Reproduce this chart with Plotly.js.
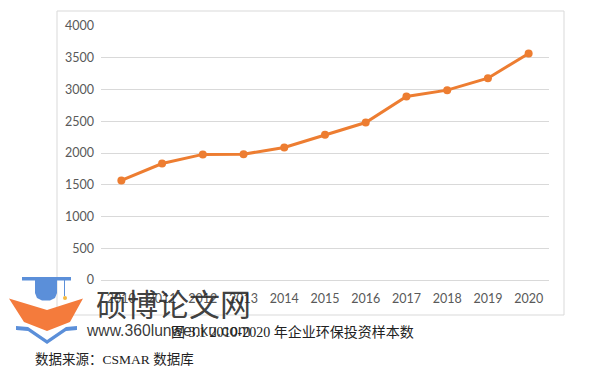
<!DOCTYPE html>
<html><head><meta charset="utf-8">
<script src="https://cdn.plot.ly/plotly-3.0.1.min.js"></script>
<style>html,body{margin:0;padding:0;background:#fff;}#chart{width:616px;height:367px;}</style>
</head><body><div id="chart"></div>
<script>
const years = ['2010','2011','2012','2013','2014','2015','2016','2017','2018','2019','2020'];
const samples = [1568, 1834, 1978, 1982, 2086, 2287, 2480, 2890, 2990, 3178, 3567];
const yTicks = [0, 500, 1000, 1500, 2000, 2500, 3000, 3500, 4000];
const captionText = '图 3.1 2010-2020 年企业环保投资样本数';
const sourceText = '数据来源：CSMAR 数据库';
const watermarkTitle = '硕博论文网';
const watermarkUrl = 'www.360lunwenku.com';

const W = 616, H = 367, L = 101, R = 549, T = 26, B = 280;
const px = x => (x - L) / (R - L);
const py = y => (B - y) / (B - T);
function path(pts){ return 'M' + pts.map(p => px(p[0]).toFixed(4) + ',' + py(p[1]).toFixed(4)).join(' L') + ' Z'; }

const shapes = [
  {type:'rect', xref:'paper', yref:'paper', x0:px(57), x1:px(564), y0:py(315), y1:py(11), line:{color:'#d9d9d9', width:1}, layer:'below'},
  // logo
  {type:'rect', xref:'paper', yref:'paper', x0:px(22), x1:px(71), y0:py(280.5), y1:py(277), fillcolor:'#5b8fd9', line:{width:0}},
  {type:'path', xref:'paper', yref:'paper', path:path([[35,280],[57,280],[57,293],[55,298],[50,300.5],[42,300.5],[37,298],[35,293]]), fillcolor:'#5b8fd9', line:{width:0}},
  {type:'line', xref:'paper', yref:'paper', x0:px(64.5), x1:px(64.5), y0:py(280), y1:py(296), line:{color:'#5b8fd9', width:1}},
  {type:'circle', xref:'paper', yref:'paper', x0:px(63), x1:px(67), y0:py(300), y1:py(296), fillcolor:'#f4b942', line:{width:0}},
  {type:'path', xref:'paper', yref:'paper', path:path([[9,298.5],[47,310],[83,298.5],[70,322],[47,331],[24,322]]), fillcolor:'#f47b3c', line:{width:0}},
  {type:'path', xref:'paper', yref:'paper', path:path([[16,326],[28,327],[47,340],[66,327],[77,326],[77,330],[66,331],[47,344],[28,331],[16,330]]), fillcolor:'#5b8fd9', line:{width:0}}
];

const trace = {
  x: years, y: samples, type:'scatter', mode:'lines+markers',
  line:{color:'#ed7d31', width:3}, marker:{color:'#ed7d31', size:8},
  hoverinfo:'skip'
};

const tickFont = {family:'Lato, "Open Sans", sans-serif', size:12.5, color:'#595959'};
const layout = {
  width:W, height:H,
  margin:{l:L, r:W-R, t:T, b:H-B, pad:0},
  paper_bgcolor:'#ffffff', plot_bgcolor:'#ffffff',
  showlegend:false,
  font:tickFont,
  xaxis:{type:'category', range:[-0.5,10.5], showgrid:false, zeroline:false, showline:false, ticks:'', ticklen:0,
         ticklabelstandoff:9, tickfont:tickFont},
  yaxis:{range:[0,4000], tickvals:yTicks, ticktext:yTicks.map(String), showgrid:true, gridcolor:'#d9d9d9', gridwidth:1,
         zeroline:true, zerolinecolor:'#d9d9d9', zerolinewidth:1, showline:false, ticks:'', ticklen:0,
         ticklabelstandoff:6, tickfont:tickFont, automargin:false},
  shapes: shapes,
  annotations:[
    {xref:'paper', yref:'paper', x:px(292), y:py(332), xanchor:'center', yanchor:'middle', showarrow:false,
     text:captionText, font:{family:'"Liberation Serif", "Noto Sans CJK SC", serif', size:14, color:'#222222'}},
    {xref:'paper', yref:'paper', x:px(33), y:py(359.5), xanchor:'left', yanchor:'middle', showarrow:false,
     text:sourceText, font:{family:'"Liberation Serif", "Noto Sans CJK SC", serif', size:13.5, color:'#222222'}},
    {xref:'paper', yref:'paper', x:px(94), y:py(302), xanchor:'left', yanchor:'middle', showarrow:false,
     text:watermarkTitle, font:{family:'"Noto Sans CJK SC", sans-serif', size:31, color:'rgba(40,40,40,0.9)'}},
    {xref:'paper', yref:'paper', x:px(84), y:py(330), xanchor:'left', yanchor:'middle', showarrow:false,
     text:watermarkUrl, font:{family:'"Liberation Sans", Arial, sans-serif', size:15.7, color:'rgba(30,30,30,0.9)'}}
  ]
};

Plotly.newPlot('chart', [trace], layout, {staticPlot:true, displayModeBar:false});
</script></body></html>
